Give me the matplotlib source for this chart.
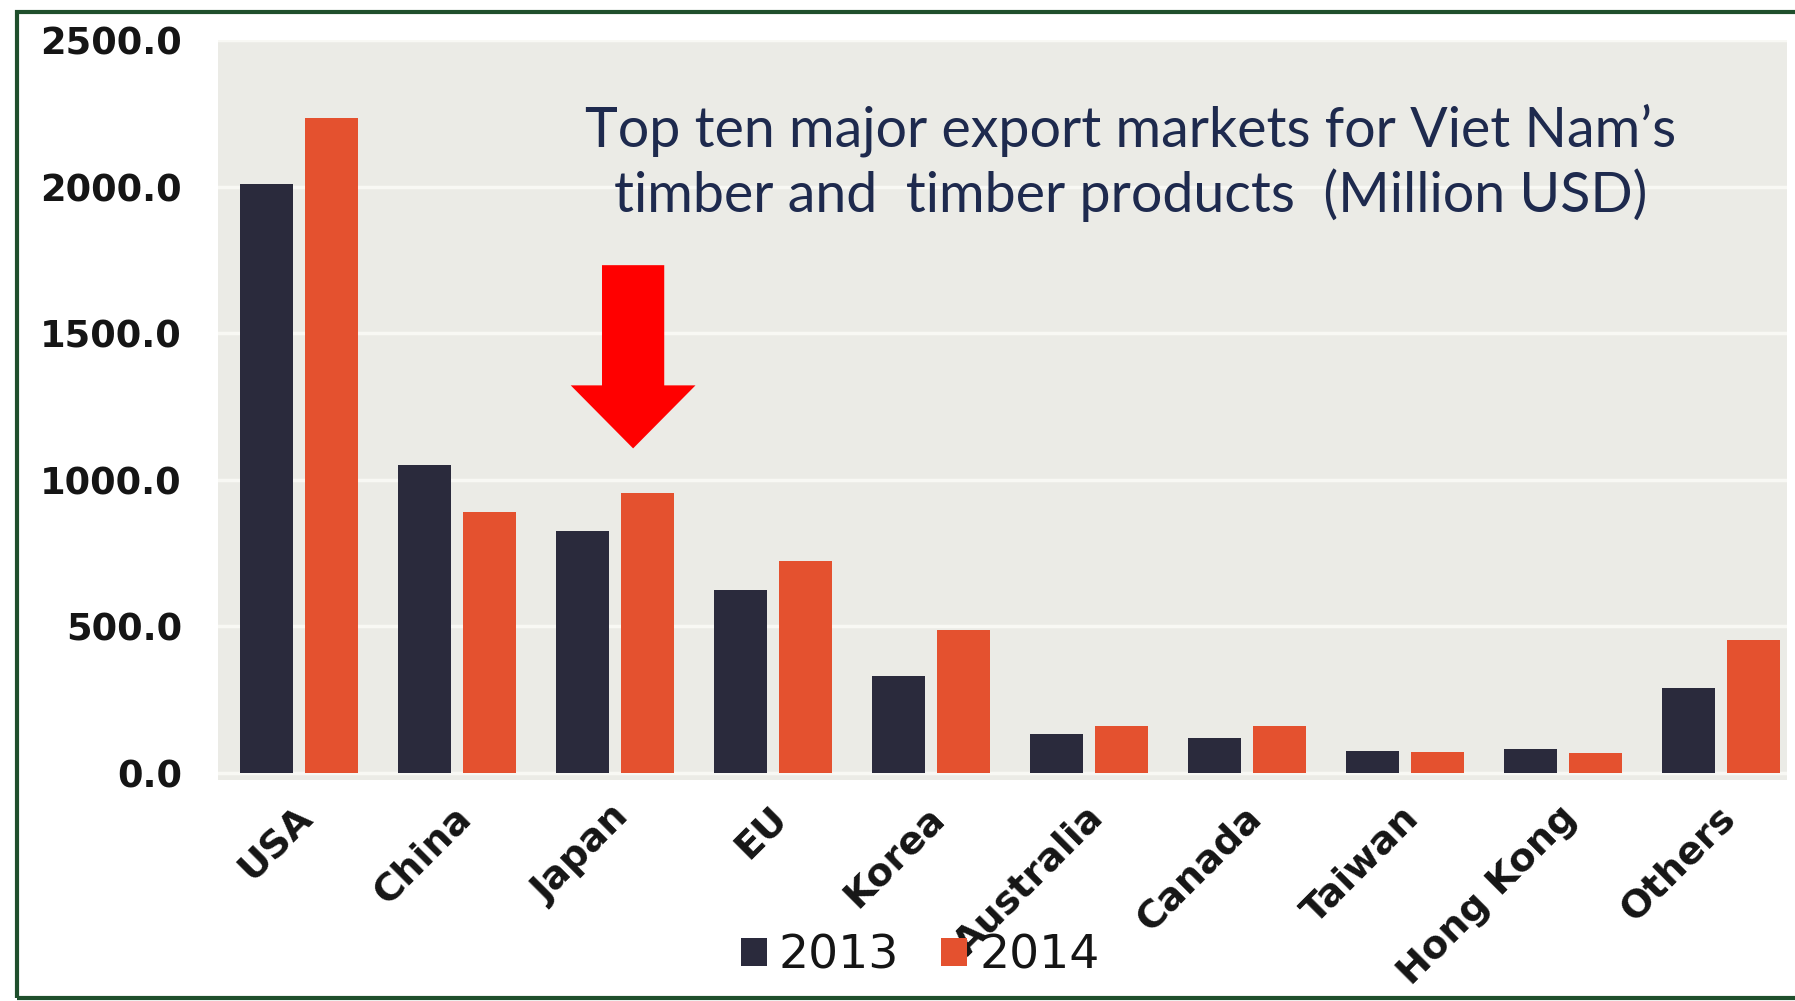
"""
Топ-10 рынков экспорта древесины Вьетнама, 2013 и 2014 (млн USD); PNG.
"""

import numpy as np
import matplotlib.pyplot as plt
from matplotlib.patches import Polygon, Rectangle
from matplotlib.transforms import ScaledTranslation

MARKETS = ["USA", "China", "Japan", "EU", "Korea", "Australia",
           "Canada", "Taiwan", "Hong Kong", "Others"]
VALUES_2013 = [2010, 1050, 825, 625, 330, 133, 118, 75, 82, 290]
VALUES_2014 = [2235, 890, 955, 722, 488, 160, 160, 73, 68, 452]
YEARS = ["2013", "2014"]
Y_TICKS = [0, 500, 1000, 1500, 2000, 2500]

TITLE = ("Top ten major export markets for Viet Nam\u2019s\n"
         "timber and  timber products  (Million USD)")
HIGHLIGHT = "Japan"

DARK = "#2a2a3c"
ORANGE = "#e4512f"
BG = "#ebebe6"
W, H = 1795, 1001


def main():
    fig = plt.figure(figsize=(W / 100, H / 100), dpi=100)
    ax = fig.add_axes([218 / W, 221 / H, (1787 - 218) / W, (961 - 221) / H])

    x = np.arange(len(MARKETS))
    width, off = 0.335, 0.206
    b1 = ax.bar(x - off, VALUES_2013, width, color=DARK, label=YEARS[0], zorder=3)
    b2 = ax.bar(x + off, VALUES_2014, width, color=ORANGE, label=YEARS[1], zorder=3)

    ax.set_facecolor(BG)
    ax.set_xlim(-0.513, 9.42)
    ax.set_ylim(-24, 2500)
    for s in ax.spines.values():
        s.set_visible(False)
    ax.grid(axis="y", color="#f8f8f4", linewidth=2.5, zorder=0)
    ax.set_axisbelow(True)

    # Оси: жирные подписи, без засечек
    ax.set_yticks(Y_TICKS)
    ax.set_yticklabels([f"{v:.1f}" for v in Y_TICKS],
                       fontsize=26.5, fontweight="bold", color="#151515")
    ax.tick_params(axis="y", length=0, pad=26)
    ax.set_xticks(x)
    ax.set_xticklabels(MARKETS, rotation=45, ha="right", va="top",
                       rotation_mode="anchor", fontsize=27.5,
                       fontweight="bold", color="#151515")
    ax.tick_params(axis="x", length=0, pad=14)
    shift = ScaledTranslation(-0.04, 0, fig.dpi_scale_trans)
    for lbl in ax.get_xticklabels():
        lbl.set_transform(lbl.get_transform() + shift)

    # Заголовок внутри области графика
    fig.text(1131 / W, 1 - 163 / H, TITLE, ha="center", va="center",
             fontsize=40, family="Lato", color="#1e2a4e", linespacing=1.25)

    # Красная стрелка над выделенным рынком
    i = MARKETS.index(HIGHLIGHT)
    cx = i + 0.115
    arrow = Polygon([(cx - 0.197, 1732), (cx + 0.197, 1732), (cx + 0.197, 1322),
                     (cx + 0.395, 1322), (cx, 1107), (cx - 0.395, 1322),
                     (cx - 0.197, 1322)],
                    closed=True, facecolor="#ff0000", edgecolor="none", zorder=5)
    ax.add_patch(arrow)

    fig.legend(handles=[b1, b2], loc="center", bbox_to_anchor=(920 / W, 45 / H),
               ncol=2, frameon=False, fontsize=34, handlelength=0.55,
               handleheight=0.55, handletextpad=0.25, columnspacing=0.9,
               labelcolor="#151515")

    # Зелёная рамка вокруг картинки
    fig.patches.append(Rectangle((17 / W, 3 / H), 1.2, (H - 15) / H,
                                 transform=fig.transFigure, fill=False,
                                 edgecolor="#1f4f2c", linewidth=3))

    fig.savefig("out.png", dpi=100)
    plt.close(fig)


if __name__ == "__main__":
    main()
